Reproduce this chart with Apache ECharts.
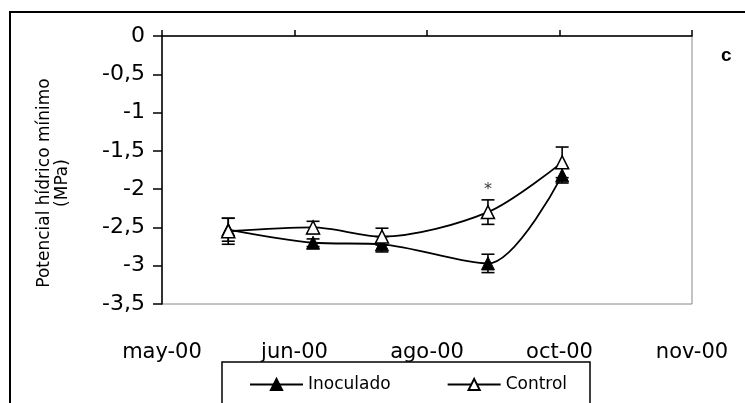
<!DOCTYPE html>
<html><head><meta charset="utf-8">
<script src="https://cdn.jsdelivr.net/npm/echarts@6/dist/echarts.min.js"></script>
<style>html,body{margin:0;padding:0;background:#fff}#c{width:745px;height:403px}</style>
</head><body><div id="c"></div>
<script>
// x positions: days from axis start (axis 0..200, tick every 50)
const xDays = [25, 57, 83, 123, 151];
const xTickLabels = ['may-00', 'jun-00', 'ago-00', 'oct-00', 'nov-00'];
const inoculado = [-2.53, -2.70, -2.72, -2.97, -1.82];
const inoculadoErr = [0.15, 0.05, 0.10, 0.12, 0.10];
const control = [-2.55, -2.50, -2.62, -2.30, -1.65];
const controlErr = [0.17, 0.08, 0.11, 0.16, 0.20];
const signif = [[123, -2.01]];
const seriesNames = ['Inoculado', 'Control'];
const yTitle = 'Potencial hídrico mínimo\n(MPa)';
const panelLetter = 'c';

const chart = echarts.init(document.getElementById('c'), null, {renderer: 'canvas'});
const pts = (ys) => ys.map((v, i) => [xDays[i], v]);
const errData = (ys, es) => ys.map((v, i) => [xDays[i], v - es[i], v + es[i]]);
function errRender(params, api) {
  const x = api.value(0);
  const lo = api.coord([x, api.value(1)]);
  const hi = api.coord([x, api.value(2)]);
  const w = 6.5;
  const st = {stroke: '#000', lineWidth: 1.6};
  return {type: 'group', children: [
    {type: 'line', shape: {x1: lo[0], y1: lo[1], x2: hi[0], y2: hi[1]}, style: st},
    {type: 'line', shape: {x1: lo[0] - w, y1: lo[1], x2: lo[0] + w, y2: lo[1]}, style: st},
    {type: 'line', shape: {x1: hi[0] - w, y1: hi[1], x2: hi[0] + w, y2: hi[1]}, style: st}
  ]};
}
const font = 'DejaVu Sans';
chart.setOption({
  animation: false,
  backgroundColor: '#fff',
  grid: {left: 162, right: 53, top: 36, bottom: 99, show: true, borderColor: '#888', borderWidth: 1},
  xAxis: [{
    type: 'value', min: 0, max: 200, interval: 50, position: 'bottom',
    axisLine: {show: false}, axisTick: {show: false}, splitLine: {show: false},
    axisLabel: {margin: 38, color: '#000', fontFamily: font, fontSize: 21,
      formatter: v => xTickLabels[Math.round(v / 50)]}
  }, {
    type: 'value', min: 0, max: 200, interval: 50, position: 'top',
    axisLine: {show: true, lineStyle: {color: '#000', width: 1.5}},
    axisTick: {show: true, length: 6, lineStyle: {color: '#000', width: 1.5}},
    axisLabel: {show: false}, splitLine: {show: false}
  }],
  yAxis: {
    type: 'value', min: -3.5, max: 0, interval: 0.5,
    axisLine: {show: true, lineStyle: {color: '#000', width: 1.5}},
    axisTick: {show: true, length: 9, lineStyle: {color: '#000', width: 1.5}},
    splitLine: {show: false},
    axisLabel: {margin: 17, color: '#000', fontFamily: font, fontSize: 22,
      formatter: v => String(v).replace('.', ',')}
  },
  legend: {
    left: 249, top: 376, padding: 0, itemWidth: 53, itemHeight: 14, itemGap: 56,
    textStyle: {color: '#000', fontFamily: font, fontSize: 17},
    data: seriesNames
  },
  graphic: [
    {type: 'rect', shape: {x: 10, y: 12, width: 900, height: 600}, style: {fill: 'none', stroke: '#000', lineWidth: 2}, silent: true},
    {type: 'rect', shape: {x: 222, y: 362, width: 368, height: 100}, style: {fill: '#fff', stroke: '#000', lineWidth: 1.5}, silent: true, z: -1},
    {type: 'text', left: 721, top: 46, style: {text: panelLetter, fill: '#000', font: 'bold 19px Liberation Sans'}},
    {type: 'text', x: 54, y: 183, rotation: Math.PI / 2,
      style: {text: yTitle, fill: '#000', font: '17px DejaVu Sans', lineHeight: 18, align: 'center', verticalAlign: 'middle'}}
  ],
  series: [
    {name: 'Inoculado', type: 'line', data: pts(inoculado), smooth: 0.3,
      symbol: 'triangle', symbolSize: 13, showAllSymbol: true,
      lineStyle: {color: '#000', width: 1.8}, itemStyle: {color: '#000', borderColor: '#000', borderWidth: 1}, z: 3},
    {name: 'Inoculado', type: 'custom', data: errData(inoculado, inoculadoErr), renderItem: errRender, z: 2},
    {name: 'Control', type: 'line', data: pts(control), smooth: 0.3,
      symbol: 'triangle', symbolSize: 13, showAllSymbol: true,
      lineStyle: {color: '#000', width: 1.8}, itemStyle: {color: '#fff', borderColor: '#000', borderWidth: 1.5}, z: 5},
    {name: 'Control', type: 'custom', data: errData(control, controlErr), renderItem: errRender, z: 4},
    {type: 'scatter', data: signif, symbolSize: 0, silent: true,
      label: {show: true, position: 'inside', formatter: '*', color: '#000', fontFamily: font, fontSize: 16}}
  ]
});
</script></body></html>
